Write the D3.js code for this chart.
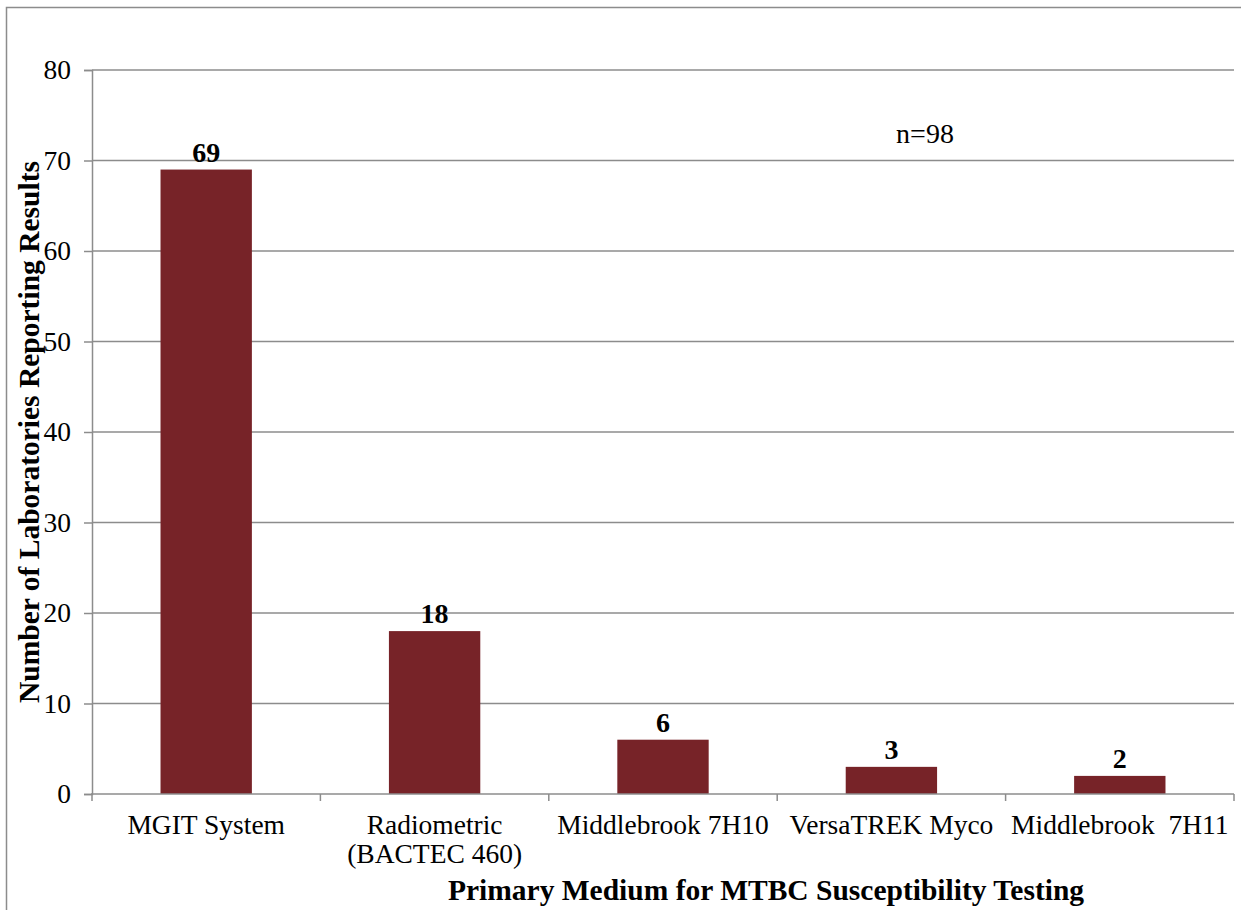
<!DOCTYPE html>
<html>
<head>
<meta charset="utf-8">
<script src="https://cdn.jsdelivr.net/npm/d3@7"></script>
<style>
  body { margin: 0; background: #fff; }
  text { font-family: "Liberation Serif", "Times New Roman", serif; fill: #000; }
</style>
</head>
<body>
<svg id="chart" width="1241" height="910"></svg>
<script>
// Chart data:
var categories = ["MGIT System", "Radiometric\n(BACTEC 460)", "Middlebrook 7H10", "VersaTREK Myco", "Middlebrook  7H11"];
var counts = [69, 18, 6, 3, 2];
var yTicks = [0, 10, 20, 30, 40, 50, 60, 70, 80];

var svg = d3.select("#chart");

var width = 1241,
    height = 910;
var margin = {top: 70, right: 7, bottom: 116, left: 92};

// Outer frame
svg.append("rect")
    .attr("x", 6.5)
    .attr("y", 7.5)
    .attr("width", width)
    .attr("height", height)
    .attr("fill", "none")
    .attr("stroke", "#8c8c8c")
    .attr("stroke-width", 1.5);

// Scaling:
var xScale = d3.scaleBand()
    .domain(categories)
    .range([margin.left, width - margin.right])
    .paddingInner(0.6)
    .paddingOuter(0.3);

var xTick = d3.scaleBand()
    .domain(categories)
    .range([margin.left, width - margin.right]);

var yScale = d3.scaleLinear()
    .domain([0, 80])
    .range([height - margin.bottom, margin.top]);

// Gridlines
svg.append("g")
    .selectAll("line")
    .data(yTicks.filter(function (d) { return d > 0; }))
    .enter()
    .append("line")
    .attr("x1", margin.left)
    .attr("x2", width - margin.right)
    .attr("y1", function (d) { return yScale(d); })
    .attr("y2", function (d) { return yScale(d); })
    .attr("stroke", "#8c8c8c")
    .attr("stroke-width", 1.5);

// y axis
var yAxis = svg.append("g")
    .attr("transform", "translate(" + margin.left + ",0)")
    .call(d3.axisLeft(yScale).tickValues(yTicks).tickSize(8).tickPadding(13));
yAxis.select(".domain").attr("stroke", "#8c8c8c").attr("stroke-width", 1.5);
yAxis.selectAll(".tick line").attr("stroke", "#8c8c8c").attr("stroke-width", 1.5);
yAxis.selectAll(".tick text")
    .style("font-size", "27.5px")
    .style("font-family", "Liberation Serif");

// Bars
svg.append("g")
    .selectAll("rect")
    .data(counts)
    .enter()
    .append("rect")
    .attr("x", function (d, i) { return xScale(categories[i]); })
    .attr("y", function (d) { return yScale(d); })
    .attr("width", xScale.bandwidth())
    .attr("height", function (d) { return yScale(0) - yScale(d); })
    .attr("fill", "#772328");

// Data labels
svg.append("g")
    .selectAll("text")
    .data(counts)
    .enter()
    .append("text")
    .attr("x", function (d, i) { return xScale(categories[i]) + xScale.bandwidth() / 2; })
    .attr("y", function (d) { return yScale(d) - 8; })
    .attr("text-anchor", "middle")
    .style("font-size", "28px")
    .style("font-weight", "bold")
    .text(function (d) { return d; });

// x axis
var x0 = yScale(0);
svg.append("line")
    .attr("x1", margin.left - 1)
    .attr("x2", width - margin.right)
    .attr("y1", x0)
    .attr("y2", x0)
    .attr("stroke", "#8c8c8c")
    .attr("stroke-width", 1.5);

var tickPos = categories.map(function (c) { return xTick(c); }).concat([width - margin.right]);
svg.append("g")
    .selectAll("line")
    .data(tickPos)
    .enter()
    .append("line")
    .attr("x1", function (d) { return d; })
    .attr("x2", function (d) { return d; })
    .attr("y1", x0)
    .attr("y2", x0 + 7)
    .attr("stroke", "#8c8c8c")
    .attr("stroke-width", 1.5);

// x tick labels (multi-line)
var xLabels = svg.append("g")
    .selectAll("text")
    .data(categories)
    .enter()
    .append("text")
    .attr("text-anchor", "middle")
    .attr("x", function (d) { return xTick(d) + xTick.bandwidth() / 2; })
    .attr("y", x0 + 40)
    .style("font-size", "27.5px")
    .style("white-space", "pre");
xLabels.each(function (d) {
    var el = d3.select(this);
    d.split("\n").forEach(function (line, i) {
        el.append("tspan")
            .attr("x", el.attr("x"))
            .attr("dy", i === 0 ? 0 : 29)
            .text(line);
    });
});

// Axis titles
svg.append("text")
    .attr("x", 766)
    .attr("y", 900)
    .attr("text-anchor", "middle")
    .style("font-size", "29.5px")
    .style("font-weight", "bold")
    .text("Primary Medium for MTBC Susceptibility Testing");

svg.append("text")
    .attr("transform", "translate(39," + ((margin.top + x0) / 2) + ") rotate(-90)")
    .attr("text-anchor", "middle")
    .style("font-size", "29.5px")
    .style("font-weight", "bold")
    .text("Number of Laboratories Reporting Results");

// Sample size note
svg.append("text")
    .attr("x", 925)
    .attr("y", 143)
    .attr("text-anchor", "middle")
    .style("font-size", "28px")
    .text("n=98");
</script>
</body>
</html>
